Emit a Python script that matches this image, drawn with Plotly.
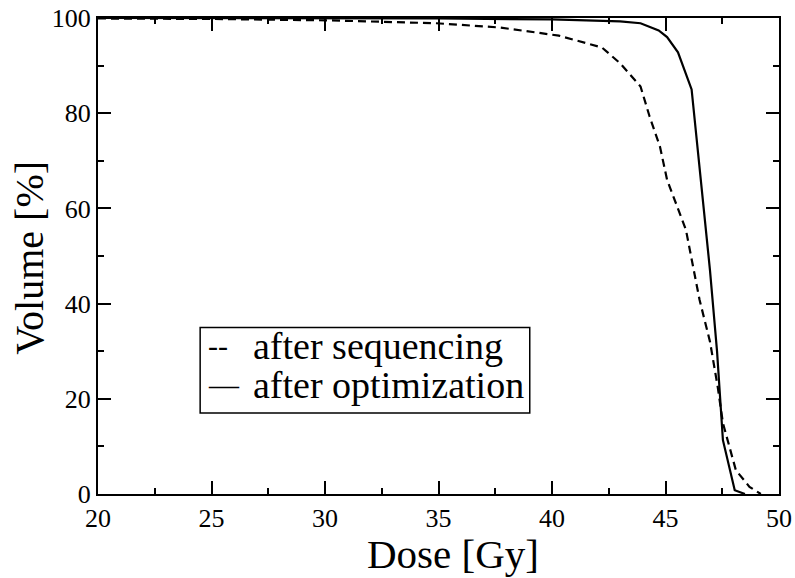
import plotly.graph_objects as go

# after sequencing (dashed)
seq_dose = [20, 25, 30.2, 34.9, 37.7, 39.5, 40.3, 42.2, 43.0, 43.9, 44.3, 44.76, 45.07, 45.9, 46.5, 46.96, 47.3, 47.53, 48.1, 48.7, 49.2]
seq_vol = [99.9, 99.8, 99.5, 98.9, 98.0, 96.9, 96.3, 93.8, 90.5, 85.6, 79.3, 72.9, 66.0, 55.5, 40.8, 32.0, 22.5, 14.9, 5.0, 1.5, 0.0]

# after optimization (solid)
opt_dose = [20, 30, 35, 40, 42, 43.0, 43.9, 44.7, 45.07, 45.55, 46.15, 46.5, 46.96, 47.27, 47.4, 47.53, 48.05, 48.5]
opt_vol = [100, 100, 99.9, 99.7, 99.5, 99.3, 98.9, 97.4, 96.0, 92.8, 85.0, 69.0, 47.0, 30.0, 20.0, 11.3, 0.8, 0.0]

x_ticks = [20, 25, 30, 35, 40, 45, 50]
y_ticks = [0, 20, 40, 60, 80, 100]

FONT = "Liberation Serif, Times New Roman, serif"

fig = go.Figure()
fig.add_trace(go.Scatter(x=seq_dose, y=seq_vol, mode="lines",
                         line=dict(color="black", width=2.2, dash="8px,5px"),
                         showlegend=False))
fig.add_trace(go.Scatter(x=opt_dose, y=opt_vol, mode="lines",
                         line=dict(color="black", width=2.2),
                         showlegend=False))

axis_common = dict(
    showgrid=False, zeroline=False, showline=True, linecolor="black", linewidth=2,
    ticks="inside", ticklen=13, tickwidth=1.5, tickcolor="black", mirror="allticks",
    tickfont=dict(family=FONT, size=26, color="black"), automargin=False,
    ticklabelstandoff=0,
)

fig.update_xaxes(range=[20, 50], tickvals=x_ticks, ticktext=[str(v) for v in x_ticks],
                 minor=dict(ticks="inside", ticklen=6, dtick=2.5, tick0=20, tickwidth=1.5, tickcolor="black"),
                 **axis_common)
fig.update_yaxes(range=[0, 100], tickvals=y_ticks, ticktext=[str(v) for v in y_ticks],
                 minor=dict(ticks="inside", ticklen=6, dtick=10, tick0=0, tickwidth=1.5, tickcolor="black"),
                 **axis_common)

# axis titles
fig.add_annotation(x=0.521, y=-0.126, xref="paper", yref="paper", text="Dose [Gy]", showarrow=False,
                   xanchor="center", yanchor="middle", font=dict(family=FONT, size=41, color="black"))
fig.add_annotation(x=-0.101, y=0.497, xref="paper", yref="paper", text="Volume [%]", showarrow=False,
                   textangle=-90, xanchor="center", yanchor="middle", font=dict(family=FONT, size=40, color="black"))

# legend box
fig.add_shape(type="rect", xref="paper", yref="paper", x0=0.150, x1=0.634, y0=0.170, y1=0.350,
              line=dict(color="black", width=1.5), fillcolor="white", layer="above")
rows = [("--", "after sequencing", 0.311), ("—", "after optimization", 0.229)]
for sym, lab, yy in rows:
    fig.add_annotation(x=0.159, y=yy, xref="paper", yref="paper", text=sym, showarrow=False,
                       xanchor="left", yanchor="middle", font=dict(family=FONT, size=30, color="black"))
    fig.add_annotation(x=0.224, y=yy, xref="paper", yref="paper", text=lab, showarrow=False,
                       xanchor="left", yanchor="middle", font=dict(family=FONT, size=38, color="black"))

fig.update_layout(width=795, height=578, paper_bgcolor="white", plot_bgcolor="white",
                  font=dict(family=FONT, color="black"),
                  margin=dict(l=98, r=16, t=18, b=84), showlegend=False)

fig.write_html("out.html")
